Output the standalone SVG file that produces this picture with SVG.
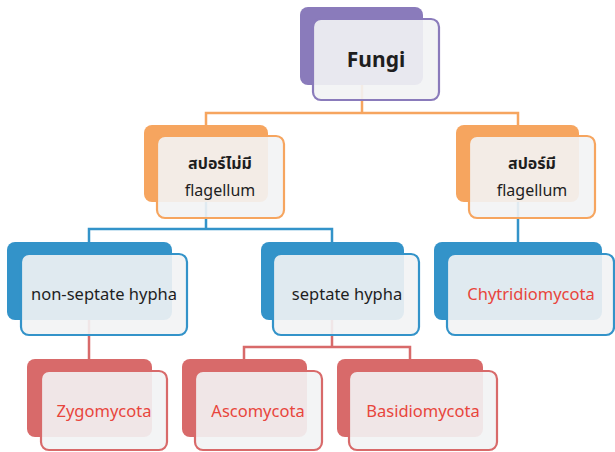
<svg xmlns="http://www.w3.org/2000/svg" width="615" height="452" viewBox="0 0 615 452">
<style>
.bk{stroke:none}
.fr{fill:#f2f3f4;fill-opacity:0.91;stroke-width:2.2}
.c{fill:none;stroke-width:2.5}
.t{font-family:"Noto Sans","Noto Sans Thai","DejaVu Sans",sans-serif;text-anchor:middle;font-size:16.5px;fill:#1e1e1e}
.r{fill:#e8453c}
.b{font-weight:bold}
.pu .bk{fill:#8a7bbb}.pu .fr{stroke:#8a7bbb}
.or .bk{fill:#f6a55f}.or .fr{stroke:#f6a55f}
.bl .bk{fill:#3393c9}.bl .fr{stroke:#3393c9}
.rd .bk{fill:#d86a6a}.rd .fr{stroke:#d86a6a}
</style>
<rect width="615" height="452" fill="#ffffff"/>
<g id="connectors">
<path class="c" stroke="#f6a55f" d="M362 85V113H206V125M362 113H518V125"/>
<path class="c" stroke="#3393c9" d="M206 202V229H89V242M206 229H332V242M518 202V242"/>
<path class="c" stroke="#d86a6a" d="M89 320V359M332 320V347H244V359M332 347H410V359"/>
</g>
<g id="fungi" class="pu">
<rect class="bk" x="300" y="7" width="123" height="78" rx="8"/>
<rect class="fr" x="313" y="19" width="126" height="81" rx="8"/>
<text class="t b" x="376" y="67" style="font-size:21px">Fungi</text>
</g>
<g id="no-flagellum" class="or">
<rect class="bk" x="144" y="125" width="124" height="77" rx="8"/>
<rect class="fr" x="157" y="136" width="127" height="82" rx="8"/>
<text class="t b" x="220" y="169" style="font-size:16px">สปอร์ไม่มี</text>
<text class="t" x="220" y="196" style="font-size:16px">flagellum</text>
</g>
<g id="flagellum" class="or">
<rect class="bk" x="456" y="125" width="123" height="77" rx="8"/>
<rect class="fr" x="469" y="136" width="126" height="82" rx="8"/>
<text class="t b" x="532" y="169" style="font-size:16px">สปอร์มี</text>
<text class="t" x="532" y="196" style="font-size:16px">flagellum</text>
</g>
<g id="non-septate" class="bl">
<rect class="bk" x="7" y="242" width="165" height="78" rx="8"/>
<rect class="fr" x="21" y="254" width="166" height="81" rx="8"/>
<text class="t" x="104" y="300">non-septate hypha</text>
</g>
<g id="septate" class="bl">
<rect class="bk" x="261" y="242" width="143" height="78" rx="8"/>
<rect class="fr" x="273" y="254" width="146" height="81" rx="8"/>
<text class="t" x="347" y="300">septate hypha</text>
</g>
<g id="chytridiomycota" class="bl">
<rect class="bk" x="434" y="242" width="168" height="78" rx="8"/>
<rect class="fr" x="447" y="254" width="167" height="81" rx="8"/>
<text class="t r" x="531" y="300">Chytridiomycota</text>
</g>
<g id="zygomycota" class="rd">
<rect class="bk" x="27" y="359" width="125" height="78" rx="8"/>
<rect class="fr" x="41" y="371" width="126" height="79" rx="8"/>
<text class="t r" x="104" y="417">Zygomycota</text>
</g>
<g id="ascomycota" class="rd">
<rect class="bk" x="182" y="359" width="125" height="78" rx="8"/>
<rect class="fr" x="195" y="371" width="127" height="79" rx="8"/>
<text class="t r" x="258" y="417">Ascomycota</text>
</g>
<g id="basidiomycota" class="rd">
<rect class="bk" x="337" y="359" width="146" height="78" rx="8"/>
<rect class="fr" x="349" y="371" width="148" height="79" rx="8"/>
<text class="t r" x="423" y="417">Basidiomycota</text>
</g>
</svg>
